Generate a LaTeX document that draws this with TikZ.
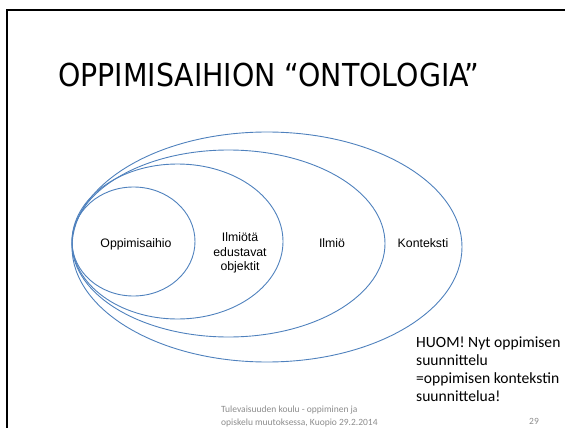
\documentclass[tikz,border=0pt]{standalone}
\usepackage{fontspec}
\setmainfont{Liberation Sans}
\newfontfamily\titlefont{DejaVu Sans Condensed}
\newfontfamily\notefont{Carlito}
\definecolor{ringblue}{HTML}{4F81BD}
\definecolor{footgrey}{HTML}{8C8C8C}
\begin{document}
\begin{tikzpicture}[x=1pt,y=-1pt,
  ring/.style={draw=ringblue,line width=0.9pt},
  ringlabel/.style={inner sep=0pt,font=\fontsize{12.3}{14.5}\selectfont,align=center},
  footer/.style={inner sep=0pt,text=footgrey,font=\notefont\fontsize{9.5}{12.2}\selectfont}]
  \useasboundingbox (0,0) rectangle (565,428);

  % slide frame
  \draw[line width=2.5pt] (7,440) -- (7,10) -- (575,10);

  % title
  \node[anchor=base west,inner sep=0pt,font=\titlefont\fontsize{31.6}{36}\selectfont]
    (title) at (58,87) {OPPIMISAIHION “ONTOLOGIA”};

  % nested rings, sharing their left edge
  \draw[ring] (267,247) ellipse [x radius=195,y radius=115];
  \draw[ring] (228.5,243.5) ellipse [x radius=156.5,y radius=93.5];
  \draw[ring] (177.5,241.5) ellipse [x radius=105.5,y radius=77.5];
  \draw[ring] (133.5,241.5) ellipse [x radius=61.5,y radius=54.5];

  % ring labels
  \node[ringlabel,anchor=base] (aihio) at (136,247) {Oppimisaihio};
  \node[ringlabel] (objektit) at (240,253) {Ilmiötä\\edustavat\\objektit};
  \node[ringlabel,anchor=base] (ilmio) at (332,247) {Ilmiö};
  \node[ringlabel,anchor=base] (konteksti) at (423,247) {Konteksti};

  % note
  \node[anchor=north west,inner sep=0pt,align=left,
        font=\notefont\fontsize{15.6}{17.8}\selectfont]
    (note) at (416,337) {HUOM! Nyt oppimisen\\suunnittelu\\=oppimisen kontekstin\\suunnittelua!};

  % footer and slide number
  \node[footer,anchor=north west,align=left] (foot) at (221,406)
    {Tulevaisuuden koulu - oppiminen ja\\opiskelu muutoksessa, Kuopio 29.2.2014};
  \node[footer] (num) at (534,421) {29};
\end{tikzpicture}
\end{document}
